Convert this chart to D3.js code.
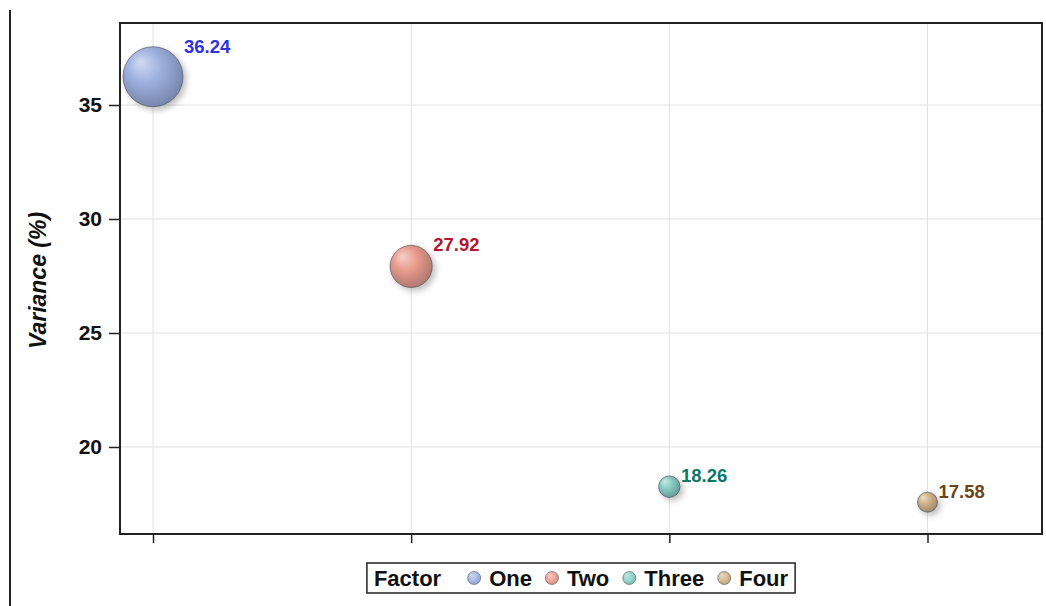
<!DOCTYPE html>
<html>
<head>
<meta charset="utf-8">
<script src="https://cdn.jsdelivr.net/npm/d3@7"></script>
<style>
  html, body { margin: 0; padding: 0; background: #fff; }
  svg { display: block; font-family: "Liberation Sans", Arial, sans-serif; }
</style>
</head>
<body>
<svg id="chart" width="1046" height="606"></svg>
<script>
// ---- data ----
const categories = ["One", "Two", "Three", "Four"];
const variance = [36.24, 27.92, 18.26, 17.58];
const bubbleSize = [36.24, 27.92, 18.26, 17.58];
const yTicks = [20, 25, 30, 35];
const legendTitle = "Factor";
const yLabel = "Variance (%)";

// styles
const baseColors = ["#9AAEDF", "#EA9888", "#82CCC2", "#D0B083"];
const labelColors = ["#2F2FE3", "#B2172F", "#0B7767", "#6B4614"];

const svg = d3.select("#chart");
const W = 1046, H = 606;
const plot = { left: 120, top: 23, right: 1042, bottom: 534 };

const x = d3.scalePoint().domain(categories).range([153, 927.5]);
const y = d3.scaleLinear().domain([16.184, 38.596]).range([plot.bottom, plot.top]);
const r = d3.scaleLinear().domain(d3.extent(bubbleSize)).range([10, 30]);

// defs: gradients and shadow
const defs = svg.append("defs");
const f = defs.append("filter").attr("id", "shadow")
  .attr("x", "-50%").attr("y", "-50%").attr("width", "200%").attr("height", "200%");
f.append("feDropShadow").attr("dx", 3).attr("dy", 3).attr("stdDeviation", 3)
  .attr("flood-color", "#000").attr("flood-opacity", 0.28);

baseColors.forEach((c, i) => {
  const g = defs.append("radialGradient").attr("id", "grad" + i)
    .attr("cx", "45%").attr("cy", "42%").attr("r", "62%")
    .attr("fx", "28%").attr("fy", "25%");
  const light = d3.interpolateRgb(c, "#ffffff")(0.55);
  const dark = d3.interpolateRgb(c, "#1a1a2a")(0.32);
  g.append("stop").attr("offset", "0%").attr("stop-color", light);
  g.append("stop").attr("offset", "45%").attr("stop-color", c);
  g.append("stop").attr("offset", "100%").attr("stop-color", dark);
  const lgr = defs.append("radialGradient").attr("id", "lgrad" + i)
    .attr("cx", "45%").attr("cy", "42%").attr("r", "62%")
    .attr("fx", "30%").attr("fy", "28%");
  lgr.append("stop").attr("offset", "0%").attr("stop-color", d3.interpolateRgb(c, "#ffffff")(0.5));
  lgr.append("stop").attr("offset", "60%").attr("stop-color", d3.interpolateRgb(c, "#ffffff")(0.15));
  lgr.append("stop").attr("offset", "100%").attr("stop-color", d3.interpolateRgb(c, "#1a1a2a")(0.12));
});

// outer left line
svg.append("line").attr("x1", 10).attr("x2", 10).attr("y1", 10).attr("y2", H)
  .attr("stroke", "#222").attr("stroke-width", 2);

// gridlines
svg.append("g").selectAll("line").data(yTicks).join("line")
  .attr("x1", plot.left).attr("x2", plot.right)
  .attr("y1", d => y(d)).attr("y2", d => y(d))
  .attr("stroke", "#e2e2e2").attr("stroke-width", 1);
svg.append("g").selectAll("line").data(categories).join("line")
  .attr("x1", d => x(d)).attr("x2", d => x(d))
  .attr("y1", plot.top).attr("y2", plot.bottom)
  .attr("stroke", "#e2e2e2").attr("stroke-width", 1);

// axes
const yAxis = svg.append("g").attr("transform", `translate(${plot.left},0)`)
  .call(d3.axisLeft(y).tickValues(yTicks).tickSize(11).tickPadding(7).tickFormat(d3.format("d")));
yAxis.select(".domain").remove();
yAxis.selectAll("line").attr("stroke", "#222").attr("stroke-width", 1.5);
yAxis.selectAll("text").attr("font-size", 21).attr("font-weight", "bold").attr("fill", "#111")
  .attr("font-family", "Liberation Sans, Arial, sans-serif");

const xAxis = svg.append("g").attr("transform", `translate(0,${plot.bottom})`)
  .call(d3.axisBottom(x).tickSize(9).tickFormat(""));
xAxis.select(".domain").remove();
xAxis.selectAll("line").attr("stroke", "#222").attr("stroke-width", 1.5);

// frame
svg.append("rect").attr("x", plot.left).attr("y", plot.top)
  .attr("width", plot.right - plot.left).attr("height", plot.bottom - plot.top)
  .attr("fill", "none").attr("stroke", "#222").attr("stroke-width", 2);

// y label
svg.append("text")
  .attr("transform", `translate(46,${(plot.top + plot.bottom) / 2 + 2}) rotate(-90)`)
  .attr("text-anchor", "middle").attr("font-size", 23).attr("font-weight", "bold")
  .attr("font-style", "italic").attr("fill", "#111").text(yLabel);

// bubbles
const data = categories.map((c, i) => ({ c, v: variance[i], s: bubbleSize[i], i }));
svg.append("g").selectAll("circle").data(data).join("circle")
  .attr("cx", d => x(d.c)).attr("cy", d => y(d.v)).attr("r", d => r(d.s))
  .attr("fill", d => `url(#grad${d.i})`).attr("fill-opacity", 0.95)
  .attr("stroke", "#4a4a55").attr("stroke-opacity", 0.6).attr("stroke-width", 1)
  .attr("filter", "url(#shadow)");

// labels
svg.append("g").selectAll("text").data(data).join("text")
  .attr("x", d => x(d.c) + r(d.s) + 1)
  .attr("y", d => y(d.v) - r(d.s) + 6)
  .attr("font-size", 18.5).attr("font-weight", "bold")
  .attr("fill", d => labelColors[d.i]).text(d => d.v.toFixed(2));

// legend
const lg = svg.append("g");
const lgY = 578;
const items = lg.append("g");
let cursor = 0;
const title = items.append("text").attr("x", cursor).attr("y", lgY + 8)
  .attr("font-size", 22).attr("font-weight", "bold").attr("fill", "#111").text(legendTitle);
cursor += title.node().getComputedTextLength() + 33;
categories.forEach((c, i) => {
  items.append("circle").attr("cx", cursor).attr("cy", lgY).attr("r", 6.5)
    .attr("fill", `url(#lgrad${i})`).attr("stroke", "#555").attr("stroke-opacity", 0.6);
  const t = items.append("text").attr("x", cursor + 15).attr("y", lgY + 8)
    .attr("font-size", 22).attr("font-weight", "bold").attr("fill", "#111").text(c);
  cursor += 15 + t.node().getComputedTextLength() + (i < categories.length - 1 ? 20 : 0);
});
const totalW = cursor + 14;
const lgX = (plot.left + plot.right) / 2 - totalW / 2;
items.attr("transform", `translate(${lgX + 7},0)`);
lg.insert("rect", ":first-child").attr("x", lgX).attr("y", 563)
  .attr("width", totalW).attr("height", 30)
  .attr("fill", "#fff").attr("stroke", "#222").attr("stroke-width", 1.5);
</script>
</body>
</html>
